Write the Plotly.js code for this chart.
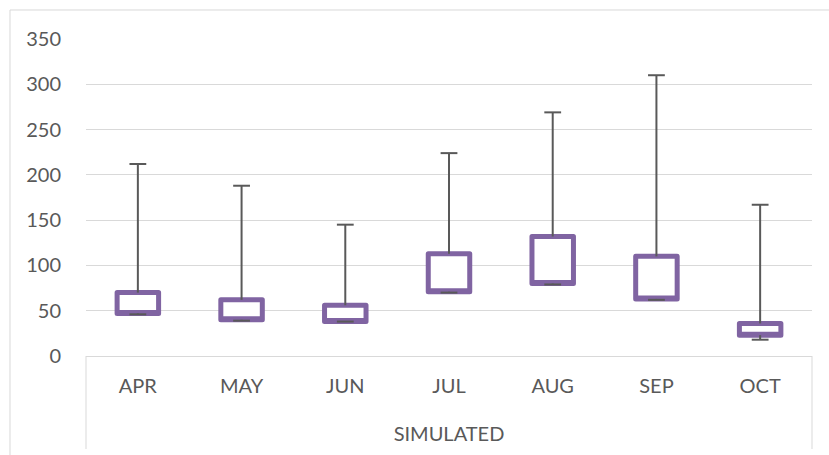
<!DOCTYPE html>
<html>
<head>
<meta charset="utf-8">
<script src="https://cdn.plot.ly/plotly-3.0.1.min.js"></script>
<style>
  html, body { margin: 0; padding: 0; background: #ffffff; }
  #chart { width: 829px; height: 455px; }
  .boxlayer path { stroke-linejoin: round !important; }
</style>
</head>
<body>
<div id="chart"></div>
<script>
// Months (category axis) and stock-style values (open, close, high, low)
var months = ['APR', 'MAY', 'JUN', 'JUL', 'AUG', 'SEP', 'OCT'];
var openVals  = [47, 40, 38, 71, 80, 63, 23];
var closeVals = [70, 62, 56, 113, 132, 110, 36];
var highVals  = [212, 188, 145, 224, 269, 310, 167];
var lowVals   = [46, 39, 38, 70, 79, 62, 18];
var yTicks = [0, 50, 100, 150, 200, 250, 300, 350];
var axisTitle = 'SIMULATED';

var whiskerColor = '#595959';
var boxColor = '#8064a2';

// Upper whisker segments (close -> high) and lower (low -> open)
var upX = [], upY = [], loX = [], loY = [];
for (var i = 0; i < months.length; i++) {
  upX.push(months[i], months[i], null);
  upY.push(Math.max(openVals[i], closeVals[i]), highVals[i], null);
  loX.push(months[i], months[i], null);
  loY.push(lowVals[i], Math.min(openVals[i], closeVals[i]), null);
}

var boxTrace = {
  type: 'box',
  x: months,
  q1: openVals.map(function (v, i) { return Math.min(v, closeVals[i]); }),
  median: openVals.map(function (v, i) { return Math.min(v, closeVals[i]); }),
  q3: openVals.map(function (v, i) { return Math.max(v, closeVals[i]); }),
  lowerfence: openVals.map(function (v, i) { return Math.min(v, closeVals[i]); }),
  upperfence: openVals.map(function (v, i) { return Math.max(v, closeVals[i]); }),
  width: 0.4,
  fillcolor: '#ffffff',
  line: { color: boxColor, width: 5 },
  whiskerwidth: 0,
  boxpoints: false,
  hoverinfo: 'skip',
  showlegend: false
};

var upperWhisker = {
  type: 'scatter', mode: 'lines', x: upX, y: upY,
  line: { color: whiskerColor, width: 2 },
  hoverinfo: 'skip', showlegend: false, connectgaps: false
};
var lowerWhisker = {
  type: 'scatter', mode: 'lines', x: loX, y: loY,
  line: { color: whiskerColor, width: 2 },
  hoverinfo: 'skip', showlegend: false, connectgaps: false
};
var highCaps = {
  type: 'scatter', mode: 'markers', x: months, y: highVals,
  marker: { symbol: 'line-ew', size: 12, line: { color: whiskerColor, width: 2 } },
  hoverinfo: 'skip', showlegend: false
};
var lowCaps = {
  type: 'scatter', mode: 'markers', x: months, y: lowVals,
  marker: { symbol: 'line-ew', size: 12, line: { color: whiskerColor, width: 2 } },
  hoverinfo: 'skip', showlegend: false
};

var gridGray = '#d9d9d9';
var font = { family: 'Lato, "Open Sans", sans-serif', size: 20, color: '#595959' };

var layout = {
  width: 829, height: 455,
  margin: { l: 86, r: 17, t: 39, b: 99 },
  paper_bgcolor: '#ffffff', plot_bgcolor: '#ffffff',
  font: font,
  showlegend: false,
  xaxis: {
    type: 'category',
    categoryarray: months,
    range: [-0.5, months.length - 0.5],
    showgrid: false, zeroline: false,
    showline: true, linecolor: gridGray, linewidth: 1,
    ticks: 'outside', ticklen: 12, tickcolor: 'rgba(0,0,0,0)',
    tickfont: font,
    title: { text: axisTitle, font: font, standoff: 30 },
    fixedrange: true
  },
  yaxis: {
    range: [0, 350],
    tickvals: yTicks,
    ticktext: yTicks.map(String),
    showgrid: true, gridcolor: gridGray, gridwidth: 1,
    zeroline: false, showline: false,
    ticks: 'outside', ticklen: 20, tickcolor: 'rgba(0,0,0,0)',
    tickfont: font,
    fixedrange: true
  },
  shapes: [
    // outer chart border (left and top)
    { type: 'line', xref: 'paper', yref: 'paper', x0: -0.1047, x1: -0.1047, y0: -0.32, y1: 1.0915,
      line: { color: gridGray, width: 1 } },
    { type: 'line', xref: 'paper', yref: 'paper', x0: -0.1047, x1: 1.03, y0: 1.0915, y1: 1.0915,
      line: { color: gridGray, width: 1 } },
    // category group box sides
    { type: 'line', xref: 'paper', yref: 'paper', x0: 0, x1: 0, y0: 0, y1: -0.2934,
      line: { color: gridGray, width: 1 } },
    { type: 'line', xref: 'paper', yref: 'paper', x0: 1, x1: 1, y0: 0, y1: -0.2934,
      line: { color: gridGray, width: 1 } }
  ]
};

Plotly.newPlot('chart', [boxTrace, upperWhisker, lowerWhisker, highCaps, lowCaps], layout,
  { staticPlot: true, displayModeBar: false });
</script>
</body>
</html>
